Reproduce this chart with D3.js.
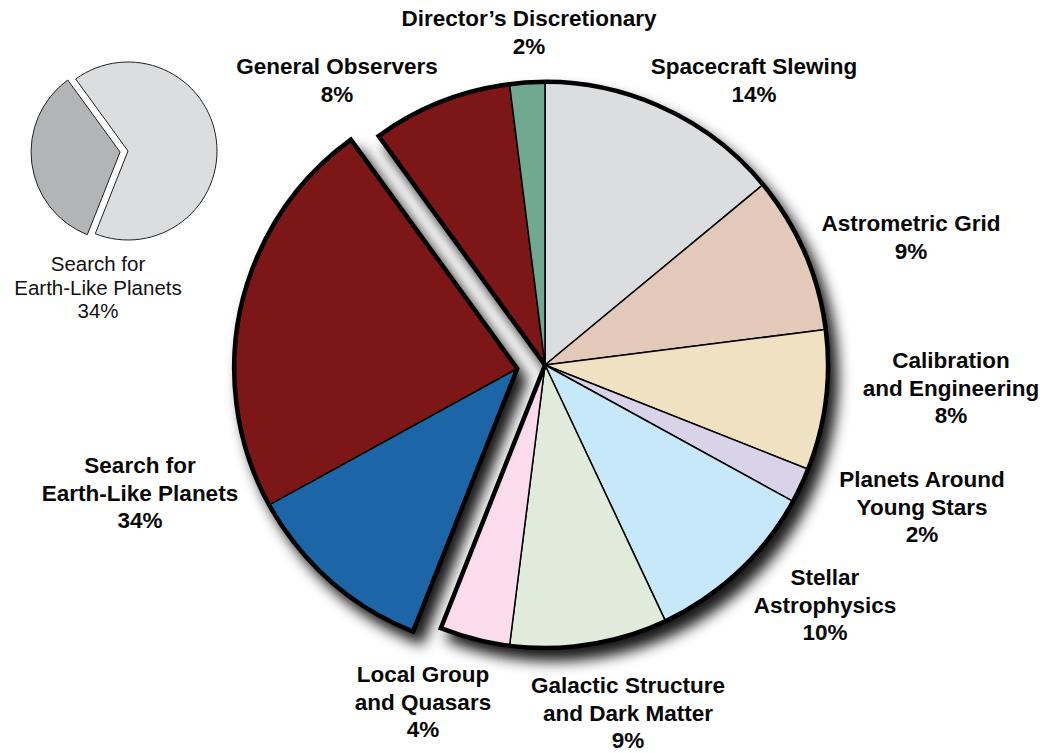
<!DOCTYPE html>
<html>
<head>
<meta charset="utf-8">
<script src="https://cdn.jsdelivr.net/npm/d3@7"></script>
<style>
  body { margin: 0; background: #fff; }
  text { font-family: "Liberation Sans", Arial, Helvetica, sans-serif; }
</style>
</head>
<body>
<svg width="1050" height="753"></svg>
<script>
// slices, clockwise from 12 o'clock
var labels = ["Spacecraft Slewing", "Astrometric Grid", "Calibration and Engineering",
  "Planets Around Young Stars", "Stellar Astrophysics", "Galactic Structure and Dark Matter",
  "Local Group and Quasars", "Search for Earth-Like Planets", "General Observers",
  "Director’s Discretionary"];
var shares = [14, 9, 8, 2, 10, 9, 4, 34, 8, 2];
var colors = ["#dcdddf", "#e2c9ba", "#f0e1c3", "#d8d3e9", "#c7e8f8", "#e0ebdb",
  "#fadcec", "#1c66a8", "#7d1619", "#6fa890"];
// the exploded slice is split in two parts (blue, red)
var earthParts = [11, 23];
var earthColors = ["#1c66a8", "#7d1619"];
var explodedIndex = 7;

// label text lines, and where they sit
var labelLines = [
  ["Spacecraft Slewing", "14%"],
  ["Astrometric Grid", "9%"],
  ["Calibration", "and Engineering", "8%"],
  ["Planets Around", "Young Stars", "2%"],
  ["Stellar", "Astrophysics", "10%"],
  ["Galactic Structure", "and Dark Matter", "9%"],
  ["Local Group", "and Quasars", "4%"],
  ["Search for", "Earth-Like Planets", "34%"],
  ["General Observers", "8%"],
  ["Director’s Discretionary", "2%"]
];
var labelPos = [[754, 74], [911, 231], [951, 368], [922, 487], [825, 585],
  [628, 693], [423, 682], [140, 473], [337, 74], [529, 26]];

// inset
var insetShares = [34, 66];
var insetColors = ["#b3b4b6", "#dcdddf"];
var insetLabel = ["Search for", "Earth-Like Planets", "34%"];

var svg = d3.select("svg");
var cx = 545, cy = 365, R = 283, explode = 28;

var defs = svg.append("defs");
var f = defs.append("filter").attr("id", "shadow")
  .attr("x", "-20%").attr("y", "-20%").attr("width", "150%").attr("height", "150%");
f.append("feDropShadow").attr("dx", 8).attr("dy", 11).attr("stdDeviation", 7)
  .attr("flood-color", "#000").attr("flood-opacity", 0.9);

var pie = d3.pie().sort(null).value(d => d);
var arcs = pie(shares);
var arc = d3.arc().innerRadius(0).outerRadius(R);

// main pie (everything but the exploded slice)
var main = svg.append("g").attr("transform", "translate(" + cx + "," + cy + ")")
  .attr("filter", "url(#shadow)");
var rest = arcs.filter((d, i) => i != explodedIndex);
main.selectAll("path.slice")
  .data(rest)
  .enter().append("path")
  .attr("class", "slice")
  .attr("d", arc)
  .attr("fill", d => colors[d.index])
  .attr("stroke", "#000")
  .attr("stroke-width", 1.5)
  .attr("stroke-linejoin", "round");
//outline of the remaining pie
var ex = arcs[explodedIndex];
main.append("path")
  .attr("d", arc({ startAngle: ex.endAngle, endAngle: ex.startAngle + 2 * Math.PI }))
  .attr("fill", "none")
  .attr("stroke", "#000")
  .attr("stroke-width", 4.5)
  .attr("stroke-linejoin", "miter");

// exploded slice
var mid = (ex.startAngle + ex.endAngle) / 2;
var ox = Math.sin(mid) * explode, oy = -Math.cos(mid) * explode;
var wedge = svg.append("g")
  .attr("transform", "translate(" + (cx + ox) + "," + (cy + oy) + ")")
  .attr("filter", "url(#shadow)");
var subArcs = d3.pie().sort(null).value(d => d)
  .startAngle(ex.startAngle).endAngle(ex.endAngle)(earthParts);
wedge.selectAll("path.sub")
  .data(subArcs)
  .enter().append("path")
  .attr("class", "sub")
  .attr("d", arc)
  .attr("fill", (d, i) => earthColors[i])
  .attr("stroke", "#000")
  .attr("stroke-width", 1.5);
wedge.append("path")
  .attr("d", arc(ex))
  .attr("fill", "none")
  .attr("stroke", "#000")
  .attr("stroke-width", 4.5);

// labels
var lab = svg.append("g");
labelLines.forEach((lines, i) => {
  var t = lab.append("text")
    .attr("x", labelPos[i][0]).attr("y", labelPos[i][1])
    .attr("text-anchor", "middle")
    .attr("font-size", 22.5)
    .attr("font-weight", "bold")
    .attr("fill", "#080808");
  lines.forEach((s, j) => {
    t.append("tspan").attr("x", labelPos[i][0]).attr("dy", j == 0 ? 0 : 27.5).text(s);
  });
});

// inset pie
var icx = 128, icy = 151, ir = 89, iexplode = 8;
var insetArcs = d3.pie().sort(null).value(d => d)
  .startAngle(ex.startAngle).endAngle(ex.startAngle + 2 * Math.PI)(insetShares);
var iarc = d3.arc().innerRadius(0).outerRadius(ir);
var inset = svg.append("g");
inset.selectAll("path")
  .data(insetArcs)
  .enter().append("path")
  .attr("transform", (d, i) => {
    if (i != 0) return "translate(" + icx + "," + icy + ")";
    var m = (d.startAngle + d.endAngle) / 2;
    return "translate(" + (icx + Math.sin(m) * iexplode) + "," + (icy - Math.cos(m) * iexplode) + ")";
  })
  .attr("d", iarc)
  .attr("fill", (d, i) => insetColors[i])
  .attr("stroke", "#222")
  .attr("stroke-width", 1);

var it = svg.append("text")
  .attr("x", 98).attr("y", 271)
  .attr("text-anchor", "middle")
  .attr("font-size", 20.5)
  .attr("fill", "#111");
insetLabel.forEach((s, j) => {
  it.append("tspan").attr("x", 98).attr("dy", j == 0 ? 0 : 23.5).text(s);
});
</script>
</body>
</html>
